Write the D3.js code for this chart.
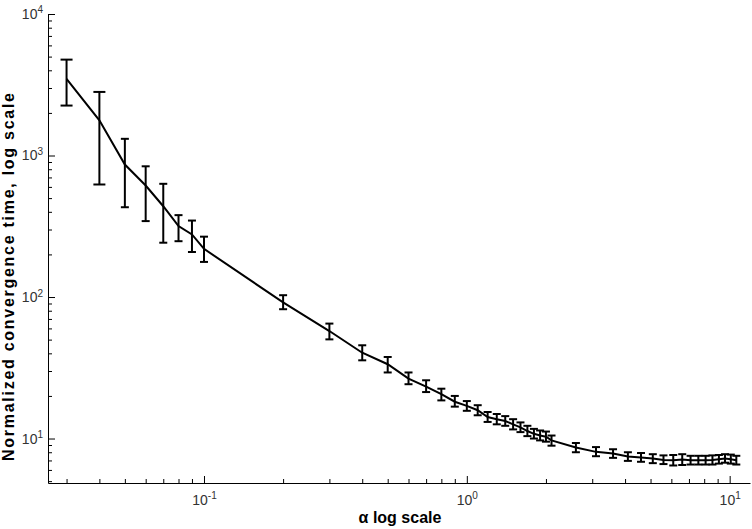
<!DOCTYPE html>
<html lang="en">
<head>
<meta charset="UTF-8">
<title>Convergence time</title>
<script src="https://d3js.org/d3.v7.min.js"></script>
<style>
  body { margin: 0; background: #fff; }
  text { font-family: "Liberation Sans", Arial, sans-serif; }
</style>
</head>
<body>
<svg width="752" height="529"></svg>
<script>
var alpha = [0.03, 0.04, 0.05, 0.06, 0.07, 0.08, 0.09, 0.1, 0.2, 0.3, 0.4, 0.5, 0.6, 0.7, 0.8, 0.9, 1.0,
  1.1, 1.2, 1.3, 1.4, 1.5, 1.6, 1.7, 1.8, 1.9, 2.0, 2.1, 2.6, 3.1, 3.6, 4.1, 4.6, 5.1, 5.6, 6.1, 6.6,
  7.1, 7.6, 8.1, 8.6, 9.1, 9.6, 10.1, 10.6];
var time = [3475, 1774, 863, 614, 438, 317, 277, 219, 91.6, 57.5, 40.4, 33.5, 26.5, 23.3, 20.6, 18.2, 17.0,
  15.85, 14.2, 13.7, 13.3, 12.6, 12.0, 11.3, 10.8, 10.5, 10.3, 9.7, 8.63, 8.05, 7.84, 7.46, 7.34, 7.22, 7.06, 7.03, 7.1,
  7.03, 7.03, 7.03, 7.06, 7.14, 7.22, 7.14, 7.03];
var timeLow = [2254, 624, 431, 344, 242, 248, 208, 177, 82, 50.2, 35.7, 29.3, 24.2, 21.3, 18.6, 16.8, 15.7,
  14.6, 13.1, 12.6, 12.3, 11.6, 11.1, 10.4, 10.0, 9.7, 9.5, 8.9, 8.0, 7.5, 7.3, 6.95, 6.85, 6.7, 6.6, 6.45, 6.5,
  6.55, 6.55, 6.55, 6.55, 6.65, 6.75, 6.65, 6.55];
var timeHigh = [4760, 2814, 1312, 839, 631, 379, 347, 267, 103, 64.9, 45.6, 37.7, 29.3, 25.8, 22.5, 20.0, 18.4,
  17.2, 15.4, 14.9, 14.4, 13.7, 13.0, 12.3, 11.7, 11.4, 11.2, 10.5, 9.3, 8.7, 8.4, 8.0, 7.9, 7.75, 7.6, 7.65, 7.75,
  7.55, 7.55, 7.55, 7.6, 7.65, 7.75, 7.7, 7.55];
var xMajorTicks = [0.1, 1, 10];
var yMajorTicks = [10, 100, 1000, 10000];

var data = alpha.map(function(a, i) {
  return { a: a, t: time[i], lo: timeLow[i], hi: timeHigh[i] };
});

var svg = d3.select("svg");
var x = d3.scaleLog().domain([0.0255, 11.95]).range([48, 750]);
var y = d3.scaleLog().domain([4.85, 10000]).range([483, 14]);

function exponent(v) { return Math.round(Math.log10(v)); }
function supLabels(sel) {
  sel.selectAll(".tick text").each(function(v) {
    var t = d3.select(this).text("10");
    t.append("tspan").attr("dy", "-0.55em").attr("font-size", "10px").text(exponent(v));
  });
}
function styleAxis(g) {
  g.selectAll("path, line").attr("stroke", "#000");
  g.selectAll("text").attr("fill", "#333").attr("font-size", "14px");
}

// minor ticks
var xMinor = x.ticks().filter(function(v) { return xMajorTicks.indexOf(+v.toPrecision(6)) < 0; });
var yMinor = y.ticks().filter(function(v) { return yMajorTicks.indexOf(+v.toPrecision(6)) < 0; });

svg.append("g")
  .attr("transform", "translate(0,483)")
  .call(d3.axisBottom(x).tickValues(xMinor).tickSize(-4).tickSizeOuter(0).tickFormat(""))
  .call(styleAxis);
svg.append("g")
  .attr("transform", "translate(48,0)")
  .call(d3.axisLeft(y).tickValues(yMinor).tickSize(-4).tickSizeOuter(0).tickFormat(""))
  .call(styleAxis);

var gx = svg.append("g")
  .attr("transform", "translate(0,483)")
  .call(d3.axisBottom(x).tickValues(xMajorTicks).tickSize(-7).tickSizeOuter(0).tickPadding(12))
  .call(styleAxis)
  .call(supLabels);
gx.select(".domain").remove();

var gy = svg.append("g")
  .attr("transform", "translate(48,0)")
  .call(d3.axisLeft(y).tickValues(yMajorTicks).tickSize(-7).tickSizeOuter(0).tickPadding(5))
  .call(styleAxis)
  .call(supLabels);
gy.select(".domain").remove();

// line
svg.append("path")
  .datum(data)
  .attr("fill", "none")
  .attr("stroke", "#000")
  .attr("stroke-width", 2)
  .attr("d", d3.line().x(function(d) { return x(d.a); }).y(function(d) { return y(d.t); }));

// error bars
var bars = svg.append("g").attr("stroke", "#000").attr("stroke-width", 2);
bars.selectAll("line.v").data(data).join("line").attr("class", "v")
  .attr("x1", function(d) { return x(d.a); })
  .attr("x2", function(d) { return x(d.a); })
  .attr("y1", function(d) { return y(d.lo); })
  .attr("y2", function(d) { return y(d.hi); });
function capW(d) { return d.a < 0.045 ? 6 : 4; }
["lo", "hi"].forEach(function(k) {
  bars.selectAll("line.c" + k).data(data).join("line").attr("class", "c" + k)
    .attr("x1", function(d) { return x(d.a) - capW(d); })
    .attr("x2", function(d) { return x(d.a) + capW(d); })
    .attr("y1", function(d) { return y(d[k]); })
    .attr("y2", function(d) { return y(d[k]); });
});

// titles
svg.append("text")
  .attr("x", 400).attr("y", 523)
  .attr("text-anchor", "middle")
  .attr("font-size", "16px").attr("font-weight", "bold")
  .text("α log scale");
svg.append("text")
  .attr("transform", "translate(14,277) rotate(-90)")
  .attr("text-anchor", "middle")
  .attr("font-size", "16px").attr("font-weight", "bold")
  .attr("textLength", 368).attr("lengthAdjust", "spacing")
  .text("Normalized convergence time, log scale");
</script>
</body>
</html>
